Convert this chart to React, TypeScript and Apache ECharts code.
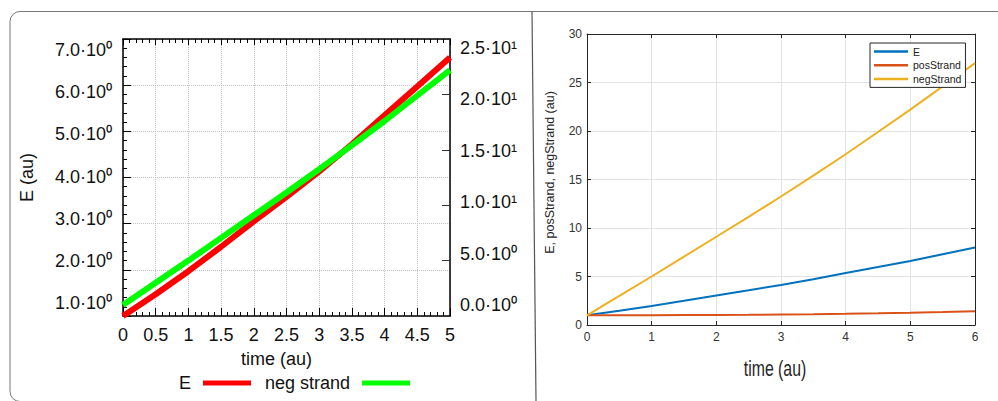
import { useEffect, useRef } from 'react';
import * as echarts from 'echarts';

// time axis (au)
const timeValues = [0, 0.5, 1, 1.5, 2, 2.5, 3, 3.5, 4, 4.5, 5, 5.5, 6];
// E (au)
const eValues = [1.0, 1.47, 1.97, 2.5, 3.05, 3.58, 4.13, 4.72, 5.35, 5.97, 6.6, 7.3, 8.0];
// posStrand (au)
const posStrandValues = [1.0, 1.0, 1.01, 1.02, 1.03, 1.05, 1.08, 1.11, 1.15, 1.2, 1.26, 1.33, 1.42];
// negStrand (au)
const negStrandValues = [1.0, 3.0, 5.0, 7.05, 9.1, 11.15, 13.25, 15.4, 17.6, 19.9, 22.2, 24.6, 27.0];

const leftXMax = 5;
const rightXMax = 6;

const leftNames = ['E', 'neg strand'];
const rightNames = ['E', 'posStrand', 'negStrand'];
const rightXTitle = 'time (au)';

const SANS = "'Liberation Sans', Arial, Helvetica, sans-serif";

const SUP = ['⁰', '¹', '²', '³'];
function sci(v: number): string {
  if (v === 0) return '0.0·10⁰';
  const e = Math.floor(Math.log10(Math.abs(v)) + 1e-9);
  const m = v / Math.pow(10, e);
  return m.toFixed(1) + '·10' + SUP[e];
}

function shiftPadding(d: number): number[] {
  return d >= 0 ? [2 * d, 0, 0, 0] : [0, 0, -2 * d, 0];
}

export default function App() {
  const ref = useRef<HTMLDivElement>(null);

  useEffect(() => {
    document.body.style.margin = '0';
    const chart = echarts.init(ref.current!, null, { renderer: 'svg' });

    const pairs = (ys: number[], xmax: number) =>
      timeValues.map((t, i) => [t, ys[i]]).filter((p) => p[0] <= xmax + 1e-9);

    // rich styles used to place the gnuplot tick labels
    const leftRich: Record<string, any> = {};
    for (let v = 1; v <= 7; v++) {
      leftRich['l' + v] = {
        fontSize: 18,
        fontFamily: SANS,
        color: '#111',
        padding: shiftPadding(Math.round((v - 4) * 4 - 1)),
      };
    }
    const rightRich: Record<string, any> = {};
    for (let v = 0; v <= 25; v += 5) {
      rightRich['r' + v] = {
        fontSize: 18,
        fontFamily: SANS,
        color: '#111',
        padding: shiftPadding(Math.round((v - 12.5) * 0.8 - 1)),
      };
    }

    const gnuTick = { show: true, inside: true, length: 8, lineStyle: { color: '#000', width: 1 } };
    const gnuMinor = { show: true, splitNumber: 5, length: 4, lineStyle: { color: '#000', width: 1 } };
    const gnuLine = { show: true, onZero: false, lineStyle: { color: '#000', width: 1.5 } };
    const gnuGrid = { show: true, lineStyle: { color: '#c4c4c4', width: 1, type: 'dotted' as const } };

    const matTick = { show: true, inside: true, length: 4, lineStyle: { color: '#262626', width: 1 } };
    const matLine = { show: true, onZero: false, lineStyle: { color: '#262626', width: 1 } };
    const matGrid = { show: true, lineStyle: { color: '#e3e3e3', width: 1 } };
    const matLabel = { fontSize: 12, fontFamily: SANS, color: '#333' };

    const option: any = {
      animation: false,
      backgroundColor: '#fff',
      graphic: [
        {
          type: 'rect',
          silent: true,
          shape: { x: 10, y: 11.5, width: 1200, height: 390, r: [10, 0, 0, 10] },
          style: { fill: 'none', stroke: '#777', lineWidth: 1 },
        },
        {
          type: 'line',
          silent: true,
          shape: { x1: 532, y1: 11.5, x2: 536, y2: 401 },
          style: { stroke: '#555', lineWidth: 1.2 },
        },
        {
          type: 'text',
          silent: true,
          x: 775,
          y: 369,
          scaleX: 0.72,
          style: {
            text: rightXTitle,
            align: 'center',
            verticalAlign: 'middle',
            fontSize: 22,
            fontFamily: SANS,
            fill: '#262626',
          },
        },
      ],
      grid: [
        { left: 123, top: 39, width: 327, height: 277 },
        { left: 587, top: 34, width: 388, height: 291 },
      ],
      legend: [
        {
          left: 174,
          top: 369,
          align: 'right',
          icon: 'rect',
          itemWidth: 48,
          itemHeight: 5,
          itemGap: 14,
          textStyle: { fontSize: 18, fontFamily: SANS, color: '#111', padding: [0, 7, 0, 0] },
          data: [
            { name: leftNames[0], itemStyle: { color: '#ff0000' } },
            { name: leftNames[1], itemStyle: { color: '#00ff00' } },
          ],
        },
        {
          left: 870,
          top: 43,
          orient: 'vertical',
          icon: 'rect',
          itemWidth: 34,
          itemHeight: 2.5,
          itemGap: 1.7,
          padding: [2.5, 4, 2.5, 4],
          backgroundColor: '#fff',
          borderColor: '#262626',
          borderWidth: 1,
          textStyle: { fontSize: 10.5, lineHeight: 12, fontFamily: SANS, color: '#222' },
          data: [
            { name: rightNames[0], itemStyle: { color: '#0072BD' } },
            { name: rightNames[1], itemStyle: { color: '#D95319' } },
            { name: rightNames[2], itemStyle: { color: '#EDB120' } },
          ],
        },
      ],
      xAxis: [
        {
          type: 'value',
          gridIndex: 0,
          position: 'bottom',
          min: 0,
          max: leftXMax,
          interval: 0.5,
          axisLine: gnuLine,
          axisTick: gnuTick,
          minorTick: gnuMinor,
          splitLine: gnuGrid,
          axisLabel: { fontSize: 18, fontFamily: SANS, color: '#111', margin: 10 },
          name: 'time (au)',
          nameLocation: 'middle',
          nameGap: 34,
          nameTextStyle: { fontSize: 18, fontFamily: SANS, color: '#111', padding: [0, 20, 0, 0] },
        },
        {
          type: 'value',
          gridIndex: 0,
          position: 'top',
          min: 0,
          max: leftXMax,
          interval: 0.5,
          axisLine: gnuLine,
          axisTick: { ...gnuTick, length: 6 },
          minorTick: gnuMinor,
          splitLine: { show: false },
          axisLabel: { show: false },
        },
        {
          type: 'value',
          gridIndex: 1,
          position: 'bottom',
          min: 0,
          max: rightXMax,
          interval: 1,
          axisLine: matLine,
          axisTick: matTick,
          splitLine: matGrid,
          axisLabel: { ...matLabel, margin: 6 },
        },
        {
          type: 'value',
          gridIndex: 1,
          position: 'top',
          min: 0,
          max: rightXMax,
          interval: 1,
          axisLine: matLine,
          axisTick: matTick,
          splitLine: { show: false },
          axisLabel: { show: false },
        },
      ],
      yAxis: [
        {
          type: 'value',
          gridIndex: 0,
          position: 'left',
          min: 1,
          max: 7,
          interval: 1,
          axisLine: gnuLine,
          axisTick: gnuTick,
          minorTick: gnuMinor,
          splitLine: gnuGrid,
          axisLabel: {
            margin: 11,
            formatter: (v: number) => `{l${Math.round(v)}|${sci(v)}}`,
            rich: leftRich,
          },
          name: 'E (au)',
          nameLocation: 'middle',
          nameGap: 87,
          nameTextStyle: { fontSize: 18, fontFamily: SANS, color: '#111' },
        },
        {
          type: 'value',
          gridIndex: 0,
          position: 'right',
          min: 0,
          max: 25,
          interval: 5,
          axisLine: gnuLine,
          axisTick: { ...gnuTick, lineStyle: { color: '#333', width: 1 } },
          splitLine: { show: false },
          axisLabel: {
            margin: 10,
            formatter: (v: number) => `{r${Math.round(v)}|${sci(v)}}`,
            rich: rightRich,
          },
        },
        {
          type: 'value',
          gridIndex: 1,
          position: 'left',
          min: 0,
          max: 30,
          interval: 5,
          axisLine: matLine,
          axisTick: matTick,
          splitLine: matGrid,
          axisLabel: { ...matLabel, margin: 5 },
          name: 'E, posStrand, negStrand (au)',
          nameLocation: 'middle',
          nameGap: 31,
          nameTextStyle: { fontSize: 12.5, fontFamily: SANS, color: '#262626', padding: [0, 0, 0, 14] },
        },
        {
          type: 'value',
          gridIndex: 1,
          position: 'right',
          min: 0,
          max: 30,
          interval: 5,
          axisLine: matLine,
          axisTick: matTick,
          splitLine: { show: false },
          axisLabel: { show: false },
        },
      ],
      series: [
        {
          name: leftNames[0],
          type: 'line',
          xAxisIndex: 0,
          yAxisIndex: 0,
          data: pairs(eValues, leftXMax),
          symbol: 'none',
          lineStyle: { color: '#ff0000', width: 6 },
          itemStyle: { color: '#ff0000' },
        },
        {
          name: leftNames[1],
          type: 'line',
          xAxisIndex: 0,
          yAxisIndex: 1,
          data: pairs(negStrandValues, leftXMax),
          symbol: 'none',
          lineStyle: { color: '#00ff00', width: 6 },
          itemStyle: { color: '#00ff00' },
        },
        {
          name: rightNames[0],
          type: 'line',
          xAxisIndex: 2,
          yAxisIndex: 2,
          data: pairs(eValues, rightXMax),
          symbol: 'none',
          lineStyle: { color: '#0072BD', width: 2 },
          itemStyle: { color: '#0072BD' },
        },
        {
          name: rightNames[1],
          type: 'line',
          xAxisIndex: 2,
          yAxisIndex: 2,
          data: pairs(posStrandValues, rightXMax),
          symbol: 'none',
          lineStyle: { color: '#D95319', width: 2 },
          itemStyle: { color: '#D95319' },
        },
        {
          name: rightNames[2],
          type: 'line',
          xAxisIndex: 2,
          yAxisIndex: 2,
          data: pairs(negStrandValues, rightXMax),
          symbol: 'none',
          lineStyle: { color: '#EDB120', width: 2 },
          itemStyle: { color: '#EDB120' },
        },
      ],
    };

    chart.setOption(option);
    return () => chart.dispose();
  }, []);

  return <div ref={ref} style={{ width: 998, height: 401 }} />;
}
